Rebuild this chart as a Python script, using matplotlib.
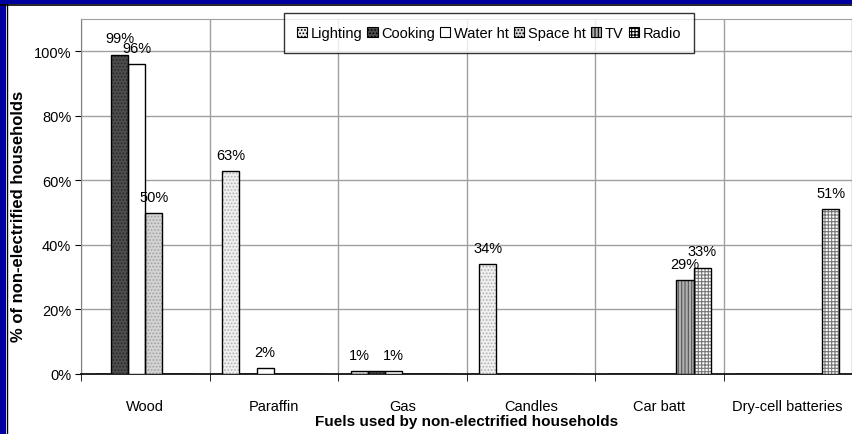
import matplotlib.pyplot as plt
import matplotlib.patches as mpatches
import numpy as np

plt.rcParams['font.family'] = ['Liberation Sans', 'DejaVu Sans']

fuels = ['Wood', 'Paraffin', 'Gas', 'Candles', 'Car batt', 'Dry-cell batteries']
uses = ['Lighting', 'Cooking', 'Water ht', 'Space ht', 'TV', 'Radio']

lighting = [0, 63, 1, 34, 0, 0]
cooking  = [99, 0, 1, 0, 0, 0]
water_ht = [96, 2, 1, 0, 0, 0]
space_ht = [50, 0, 0, 0, 0, 0]
tv       = [0, 0, 0, 0, 29, 0]
radio    = [0, 0, 0, 0, 33, 51]
series = [lighting, cooking, water_ht, space_ht, tv, radio]

# label for the middle gas bar is hidden (overlaps its neighbours)
no_label = {(1, 2)}

# (face, hatch, hatch colour)
styles = [
    ('#f0f0f0', '.....', '#b0b0b0'),
    ('#4d4d4d', '.....', '#2a2a2a'),
    ('#ffffff', '',      '#ffffff'),
    ('#d4d4d4', '.....', '#a0a0a0'),
    ('#b0b0b0', '|||||', '#555555'),
    ('#ffffff', '+++++', '#777777'),
]

BLUE = '#0000a0'

fig = plt.figure(figsize=(8.52, 4.35), dpi=100)
fig.patch.set_facecolor('white')
ax = fig.add_axes([81/852, 60/435, 771/852, 355/435])

x = np.arange(len(fuels))
w = 1 / 7.5
handles = []
for j, (vals, (fc, hatch, hc)) in enumerate(zip(series, styles)):
    pos = x + (j - 2.5) * w
    plt.rcParams['hatch.color'] = hc
    plt.rcParams['hatch.linewidth'] = 0.8
    ax.bar(pos, vals, w, facecolor=fc, hatch=hatch, edgecolor=hc, linewidth=0, zorder=3)
    ax.bar(pos, vals, w, facecolor='none', edgecolor='black', linewidth=1.0, zorder=4)
    for i, v in enumerate(vals):
        if v > 0 and (j, i) not in no_label:
            ax.text(pos[i], v + 2.8, f'{v}%', ha='center', va='bottom', fontsize=10.5, zorder=5)
    handles.append(mpatches.Patch(facecolor=fc, hatch=hatch, edgecolor='black', linewidth=0.8, label=uses[j]))

ax.set_xlim(-0.5, len(fuels) - 0.5)
ax.set_ylim(0, 110)
ax.set_yticks(np.arange(0, 101, 20))
ax.set_yticklabels([f'{t}%' for t in range(0, 101, 20)], fontsize=10.5)
ax.set_xticks(x)
ax.set_xticklabels(fuels, fontsize=10.5)
ax.tick_params(axis='x', length=0, pad=18)
ax.set_xticks(np.arange(-0.5, len(fuels), 1), minor=True)
ax.tick_params(axis='x', which='minor', length=5, direction='out', color='black')
ax.tick_params(axis='y', length=4, direction='out', color='black', pad=3)

ax.grid(axis='y', color='#a0a0a0', linewidth=1, zorder=0)
ax.grid(axis='x', which='minor', color='#a0a0a0', linewidth=1, zorder=0)
ax.set_axisbelow(True)

for s in ['top', 'right']:
    ax.spines[s].set_color('#a0a0a0')
ax.spines['left'].set_color('#808080')
ax.spines['bottom'].set_color('black')
ax.spines['bottom'].set_linewidth(1.2)

ax.set_xlabel('Fuels used by non-electrified households', fontsize=11, fontweight='bold')
ax.xaxis.set_label_coords(0.5, -40/355)
ax.set_ylabel('% of non-electrified households', fontsize=12, fontweight='bold')
ax.yaxis.set_label_coords(-55/771, 0.448)

leg = ax.legend(handles=handles, ncol=6, loc='upper center', bbox_to_anchor=(0.529, 1.017),
                borderaxespad=0, fontsize=10.5, handlelength=0.7, handleheight=0.7,
                handletextpad=0.25, columnspacing=0.35, borderpad=0.9,
                frameon=True, fancybox=False)
leg.get_frame().set_edgecolor('black')
leg.get_frame().set_linewidth(1)
leg.set_zorder(10)

# blue slide frame along the top and left
fig.patches.append(mpatches.Rectangle((0, 1 - 5/435), 1, 5/435, transform=fig.transFigure,
                                      facecolor=BLUE, edgecolor='none', zorder=20))
fig.patches.append(mpatches.Rectangle((0, 0), 6/852, 1, transform=fig.transFigure,
                                      facecolor=BLUE, edgecolor='none', zorder=20))
fig.lines.append(plt.Line2D([0, 1], [1 - 5.5/435] * 2, transform=fig.transFigure,
                            color='black', linewidth=1.2, zorder=21))
fig.lines.append(plt.Line2D([6.5/852] * 2, [0, 1 - 5/435], transform=fig.transFigure,
                            color='black', linewidth=1.0, zorder=21))

fig.savefig('out.png', dpi=100)
